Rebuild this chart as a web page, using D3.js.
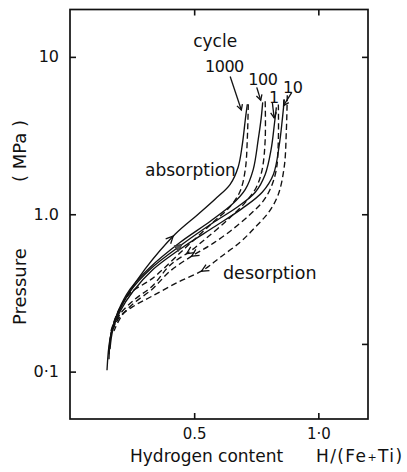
<!DOCTYPE html>
<html><head><meta charset="utf-8">
<script src="https://cdn.jsdelivr.net/npm/d3@7"></script>
<style>
body{margin:0;background:#fff}
text{font-family:"DejaVu Sans",sans-serif;fill:#111}
</style>
</head><body>
<svg id="c" width="407" height="472"></svg>
<script>
// ---- data (x = H/(Fe+Ti), p = pressure MPa) ----
const cycles = ["1", "10", "100", "1000"];
const absorption1 = [[0.149,0.102],[0.161,0.161],[0.190,0.232],[0.242,0.324],[0.323,0.448],[0.452,0.645],[0.573,0.877],[0.677,1.12],[0.746,1.38],[0.786,1.79],[0.810,2.59],[0.823,3.73],[0.831,4.78]];
const absorption10 = [[0.161,0.139],[0.173,0.186],[0.202,0.242],[0.254,0.324],[0.331,0.441],[0.460,0.626],[0.585,0.839],[0.694,1.09],[0.774,1.38],[0.819,1.79],[0.843,2.78],[0.855,4.01],[0.863,5.37]];
const absorption100 = [[0.157,0.120],[0.165,0.173],[0.194,0.242],[0.242,0.334],[0.323,0.461],[0.444,0.664],[0.565,0.903],[0.653,1.157],[0.706,1.44],[0.738,1.93],[0.758,2.99],[0.770,4.1],[0.776,5.14]];
const absorption1000 = [[0.157,0.129],[0.169,0.186],[0.202,0.249],[0.234,0.311],[0.302,0.448],[0.423,0.746],[0.516,1.0],[0.585,1.25],[0.645,1.55],[0.677,1.99],[0.694,2.78],[0.706,4.0],[0.714,5.0]];
const desorption1 = [[0.839,4.99],[0.839,2.99],[0.831,1.93],[0.806,1.44],[0.774,1.19],[0.726,1.0],[0.645,0.780],[0.565,0.636],[0.496,0.549],[0.403,0.435],[0.331,0.334],[0.262,0.276],[0.210,0.229],[0.177,0.181]];
const desorption10 = [[0.875,5.70],[0.871,3.32],[0.863,2.02],[0.839,1.34],[0.802,1.04],[0.746,0.827],[0.685,0.664],[0.605,0.533],[0.536,0.441],[0.435,0.370],[0.331,0.302],[0.262,0.264],[0.202,0.225],[0.173,0.186]];
const desorption100 = [[0.786,5.22],[0.786,2.99],[0.774,1.93],[0.750,1.48],[0.706,1.19],[0.637,0.929],[0.544,0.694],[0.484,0.582],[0.403,0.475],[0.331,0.349],[0.262,0.289],[0.202,0.232],[0.169,0.181]];
const desorption1000 = [[0.718,5.0],[0.714,3.0],[0.706,1.93],[0.685,1.40],[0.645,1.12],[0.573,0.88],[0.464,0.61],[0.331,0.39],[0.242,0.315],[0.194,0.242],[0.165,0.181]];

// direction-arrow positions (x value along the curve)
const absArrowX = {"1": 0.452, "1000": 0.415};
const desArrowX = {"1": 0.49, "100": 0.47, "10": 0.53};

const xTicks = [0.5, 1.0];
const xTickLabels = ["0.5", "1·0"];
const yTicks = [0.1, 1, 10];
const yTickLabels = ["0·1", "1.0", "10"];
const rightTicks = [0.15, 1, 10];

// annotation labels and pointers [tail, head] in data units
const cycleLabels = ["1000", "100", "1", "10"];
const cycleLabelPos = [[0.544, 7.97], [0.718, 6.6], [0.801, 5.07], [0.858, 5.87]];
const cyclePointers = [
  [[0.645, 7.5], [0.690, 4.6]],
  [[0.752, 6.4], [0.768, 5.3]],
  [[0.815, 5.1], [0.822, 4.1]],
  [[0.893, 5.95], [0.860, 4.9]]
];

const absorption = {"1": absorption1, "10": absorption10, "100": absorption100, "1000": absorption1000};
const desorption = {"1": desorption1, "10": desorption10, "100": desorption100, "1000": desorption1000};

// ---- chart ----
const svg = d3.select("#c");
const x = d3.scaleLinear().domain([0, 1.2]).range([70, 368]);
const y = d3.scaleLog().domain([0.05, 20]).range([419, 9.5]);

const line = d3.line().x(d => x(d[0])).y(d => y(d[1])).curve(d3.curveCatmullRom.alpha(0.5));

function styleAxis(g) {
  g.select(".domain").remove();
  g.selectAll(".tick line").attr("stroke", "#111").attr("stroke-width", 1.6);
  g.selectAll(".tick text").attr("font-family", "DejaVu Sans").attr("font-size", 16).attr("fill", "#111");
}

svg.append("g").attr("transform", "translate(0,419)")
  .call(d3.axisBottom(x).tickValues(xTicks).tickSize(-6).tickPadding(9)
    .tickFormat((d, i) => xTickLabels[i])).call(styleAxis)
  .selectAll(".tick text").attr("font-size", 15);
svg.append("g").attr("transform", "translate(0,9.5)")
  .call(d3.axisTop(x).tickValues(xTicks).tickSize(-6).tickFormat("")).call(styleAxis);
svg.append("g").attr("transform", "translate(70,0)")
  .call(d3.axisLeft(y).tickValues(yTicks).tickSize(-6).tickPadding(11)
    .tickFormat((d, i) => yTickLabels[i])).call(styleAxis);
svg.append("g").attr("transform", "translate(368,0)")
  .call(d3.axisRight(y).tickValues(rightTicks).tickSize(-6).tickFormat("")).call(styleAxis);

svg.append("rect").attr("x", x(0)).attr("y", y(20)).attr("width", x(1.2) - x(0)).attr("height", y(0.05) - y(20))
  .attr("fill", "none").attr("stroke", "#111").attr("stroke-width", 1.7);

// curves
const curveG = svg.append("g").attr("fill", "none").attr("stroke", "#111").attr("stroke-width", 1.35);
cycles.forEach(c => {
  const pa = curveG.append("path").attr("d", line(absorption[c]));
  const pd = curveG.append("path").attr("d", line(desorption[c])).attr("stroke-dasharray", "6,3.5");
  if (absArrowX[c] !== undefined) arrowOn(pa.node(), absArrowX[c], c === "1");
  if (desArrowX[c] !== undefined) arrowOn(pd.node(), desArrowX[c], false);
});

function arrowOn(node, xv, filled) {
  const L = node.getTotalLength();
  const tx = x(xv);
  let best = 0, bd = 1e9;
  for (let l = 0; l <= L; l += 0.5) {
    const p = node.getPointAtLength(l);
    const dd = Math.abs(p.x - tx);
    if (dd < bd) { bd = dd; best = l; }
  }
  const p = node.getPointAtLength(best);
  const a = node.getPointAtLength(Math.max(0, best - 3));
  const b = node.getPointAtLength(Math.min(L, best + 3));
  drawHead(p, Math.atan2(b.y - a.y, b.x - a.x), filled);
}

function drawHead(p, ang, filled) {
  const len = 8, spread = 0.45;
  const p1 = [p.x - len * Math.cos(ang - spread), p.y - len * Math.sin(ang - spread)];
  const p2 = [p.x - len * Math.cos(ang + spread), p.y - len * Math.sin(ang + spread)];
  if (filled) {
    svg.append("path").attr("d", `M${p1}L${p.x},${p.y}L${p2}Z`).attr("fill", "#555").attr("stroke", "#333").attr("stroke-width", 1);
  } else {
    svg.append("path").attr("d", `M${p1}L${p.x},${p.y}L${p2}`).attr("fill", "none").attr("stroke", "#111").attr("stroke-width", 1.3);
  }
}

// cycle labels and pointers
svg.append("text").attr("x", x(0.496)).attr("y", y(11.5)).attr("font-size", 17).text("cycle");
cycleLabels.forEach((t, i) => {
  svg.append("text").attr("x", x(cycleLabelPos[i][0])).attr("y", y(cycleLabelPos[i][1]))
    .attr("font-size", 16).attr("letter-spacing", -0.5).text(t);
  const [t0, h0] = cyclePointers[i];
  const P0 = [x(t0[0]), y(t0[1])], P1 = [x(h0[0]), y(h0[1])];
  svg.append("line").attr("x1", P0[0]).attr("y1", P0[1]).attr("x2", P1[0]).attr("y2", P1[1])
    .attr("stroke", "#111").attr("stroke-width", 1.3);
  const ang = Math.atan2(P1[1] - P0[1], P1[0] - P0[0]);
  const len = 6, sp = 0.5;
  svg.append("path").attr("d", `M${P1[0] - len * Math.cos(ang - sp)},${P1[1] - len * Math.sin(ang - sp)}L${P1[0]},${P1[1]}L${P1[0] - len * Math.cos(ang + sp)},${P1[1] - len * Math.sin(ang + sp)}`)
    .attr("fill", "none").attr("stroke", "#111").attr("stroke-width", 1.3);
});

svg.append("text").attr("x", 145).attr("y", 176).attr("font-size", 17).text("absorption");
svg.append("text").attr("x", 223).attr("y", 279).attr("font-size", 17.5).text("desorption");

// axis titles
svg.append("text").attr("x", 130).attr("y", 462).attr("font-size", 17).text("Hydrogen content");
const ht = svg.append("text").attr("x", 316).attr("y", 462).attr("font-size", 17).attr("letter-spacing", 1.4);
ht.append("tspan").text("H/(Fe");
ht.append("tspan").attr("font-size", 11).attr("dy", -1).text("+");
ht.append("tspan").attr("dy", 1).text("Ti)");

svg.append("text").attr("transform", "translate(26,325) rotate(-90)").attr("font-size", 18).text("Pressure");
svg.append("text").attr("transform", "translate(26,182) rotate(-90)").attr("font-size", 18).attr("xml:space", "preserve").text("( MPa )");
</script>
</body></html>
